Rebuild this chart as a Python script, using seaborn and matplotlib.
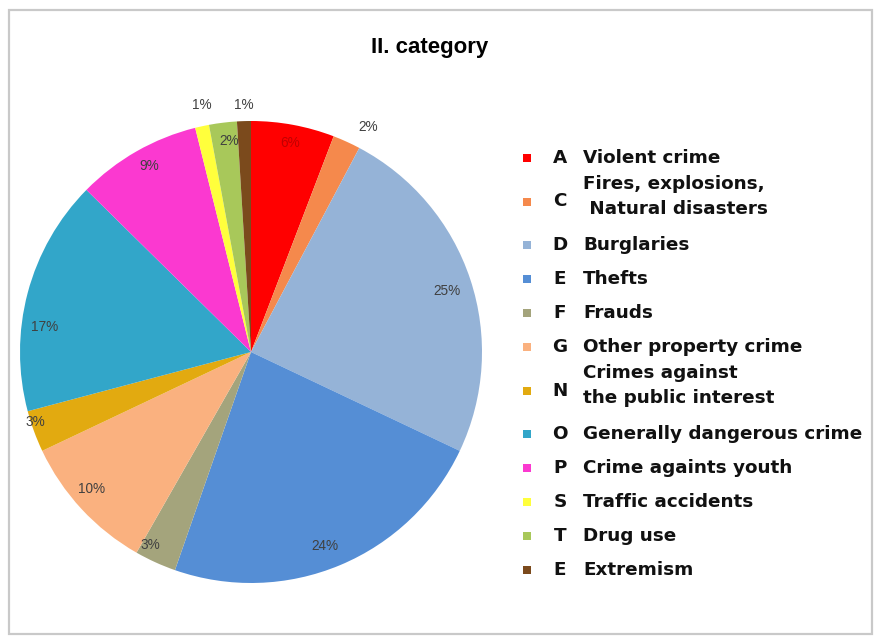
import matplotlib
matplotlib.use("Agg")
import matplotlib.pyplot as plt
import seaborn as sns
import numpy as np
from matplotlib.patches import Rectangle

# data (clockwise from 12 o'clock)
codes = ['A', 'C', 'D', 'E', 'F', 'G', 'N', 'O', 'P', 'S', 'T', 'E']
names = ['Violent crime', 'Fires, explosions,\n Natural disasters', 'Burglaries',
         'Thefts', 'Frauds', 'Other property crime',
         'Crimes against\nthe public interest', 'Generally dangerous crime',
         'Crime againts youth', 'Traffic accidents', 'Drug use', 'Extremism']
shares = [6, 2, 25, 24, 3, 10, 3, 17, 9, 1, 2, 1]
colors = ['#ff0000', '#f5894c', '#95b3d7', '#558ed5', '#a4a47c', '#fab17f',
          '#e2aa10', '#32a6c9', '#fb39d0', '#ffff3c', '#a8c85a', '#7b4a1c']

sns.set_theme(style='white')
plt.rcParams['font.family'] = ['Liberation Sans', 'DejaVu Sans']

W, H = 879, 641
fig = plt.figure(figsize=(W / 100, H / 100), dpi=100)
fig.patch.set_facecolor('white')

# light frame round the chart area
fig.add_artist(Rectangle((9 / W, 1 - 634 / H), 863 / W, 624 / H, transform=fig.transFigure,
                         fill=False, edgecolor='#c9c9c9', linewidth=1.6))

cx, cy, r = 251, 352, 231
ax = fig.add_axes([(cx - r) / W, 1 - (cy + r) / H, 2 * r / W, 2 * r / H])
wedges, _ = ax.pie(shares, colors=colors, startangle=90, counterclock=False,
                   wedgeprops=dict(linewidth=0))
ax.set_aspect('auto')
ax.set_xlim(-1, 1)
ax.set_ylim(-1, 1)

# percentage labels: distance from centre and small clockwise nudge (deg) per wedge
lab_r = [0.92, 1.1, 0.89, 0.9, 0.94, 0.91, 0.98, 0.9, 0.92, 1.09, 0.92, 1.07]
lab_da = [0, 3, 1, 2, 3, 2, 2, -8, 1, 1, 1, 0]
lab_col = ['#c00000'] + ['#404040'] * 11
for w, v, rr, da, c in zip(wedges, shares, lab_r, lab_da, lab_col):
    th = np.deg2rad((w.theta1 + w.theta2) / 2 - da)
    ax.text(rr * np.cos(th), rr * np.sin(th), f'{v}%', ha='center', va='center',
            fontsize=9.8, color=c, clip_on=False)

fig.text(430 / W, 1 - 47 / H, 'II. category', ha='center', va='center',
         fontsize=16, fontweight='bold', color='black')

# legend drawn row by row
top = 141
for code, name, col in zip(codes, names, colors):
    n = name.count('\n') + 1
    h = 34 + 19 * (n - 1)
    yc = top + h / 2
    yt = yc - 5 * (n - 1)
    fig.add_artist(Rectangle((523 / W, 1 - (yc + 4) / H), 8 / W, 8 / H,
                             transform=fig.transFigure, color=col, linewidth=0))
    fig.text(560 / W, 1 - yc / H, code, ha='center', va='center',
             fontsize=13.2, fontweight='bold', color='#111111', family='DejaVu Sans')
    fig.text(583 / W, 1 - yt / H, name, ha='left', va='center', linespacing=1.45,
             fontsize=13.2, fontweight='bold', color='#111111', family='DejaVu Sans')
    top += h

fig.savefig('out.png', dpi=100, facecolor='white')
